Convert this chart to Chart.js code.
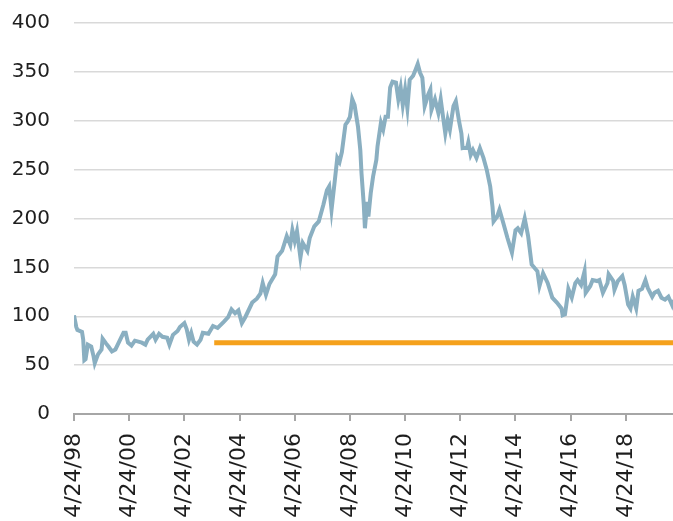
<!DOCTYPE html>
<html>
<head>
<meta charset="utf-8">
<script src="https://cdn.jsdelivr.net/npm/chart.js@4.4.1/dist/chart.umd.min.js"></script>
<style>
  html, body { margin: 0; padding: 0; background: #fff; overflow: hidden; }
  #wrap { width: 673px; height: 521px; }
</style>
</head>
<body>
<div id="wrap"><canvas id="chart"></canvas></div>
<script>
// index series
const dates = [
  '1998-04-24','1998-05-24','1998-06-08','1998-08-08','1998-08-24','1998-09-08','1998-09-24','1998-10-24','1998-12-08','1999-01-08',
  '1999-01-24','1999-03-08','1999-04-24','1999-05-08','1999-06-24','1999-07-24','1999-09-08','1999-10-24','1999-11-24','2000-02-08',
  '2000-03-08','2000-04-08','2000-05-24','2000-07-08','2000-08-24','2000-10-08','2000-11-24','2000-12-24','2001-03-08','2001-04-08',
  '2001-05-24','2001-07-08','2001-09-08','2001-10-08','2001-11-24','2002-01-24','2002-02-24','2002-04-24','2002-05-24','2002-06-24',
  '2002-07-24','2002-08-24','2002-10-08','2002-11-24','2002-12-24','2003-03-08','2003-05-08','2003-07-08','2003-09-24','2003-11-24',
  '2004-01-08','2004-02-24','2004-04-08','2004-05-24','2004-07-08','2004-10-08','2004-12-08','2005-01-24','2005-02-24','2005-04-08',
  '2005-05-24','2005-08-08','2005-09-08','2005-11-08','2006-01-08','2006-02-24','2006-03-24','2006-04-24','2006-05-24','2006-07-08',
  '2006-08-08','2006-10-08','2006-11-08','2007-01-08','2007-03-08','2007-05-08','2007-06-24','2007-07-24','2007-08-24','2007-10-08',
  '2007-11-08','2007-12-08','2008-01-08','2008-02-24','2008-03-24','2008-04-24','2008-05-24','2008-06-24','2008-08-08','2008-09-08',
  '2008-09-24','2008-10-24','2008-11-08','2008-12-08','2008-12-24','2009-01-24','2009-02-24','2009-04-08','2009-04-24','2009-06-08',
  '2009-07-08','2009-08-08','2009-09-08','2009-10-08','2009-11-08','2009-12-24','2010-01-24','2010-02-24','2010-03-24','2010-04-24',
  '2010-05-24','2010-06-24','2010-08-08','2010-09-08','2010-10-08','2010-11-08','2010-12-08','2011-01-08','2011-02-24','2011-03-24',
  '2011-04-08','2011-05-24','2011-07-08','2011-08-08','2011-09-08','2011-10-08','2011-11-08','2011-12-08','2012-01-24','2012-02-24',
  '2012-04-08','2012-05-08','2012-05-24','2012-07-24','2012-08-08','2012-09-08','2012-10-08','2012-11-24','2013-01-08','2013-02-24',
  '2013-04-08','2013-05-24','2013-06-24','2013-07-08','2013-08-24','2013-09-24','2013-11-08','2014-01-08','2014-03-08','2014-04-24',
  '2014-05-24','2014-07-08','2014-08-24','2014-10-08','2014-11-24','2015-02-08','2015-03-08','2015-04-24','2015-06-24','2015-08-24',
  '2015-10-24','2015-12-24','2016-01-08','2016-02-08','2016-03-08','2016-03-24','2016-05-08','2016-06-24','2016-07-24','2016-09-08',
  '2016-10-24','2016-11-08','2017-01-08','2017-02-08','2017-04-08','2017-05-08','2017-06-24','2017-08-24','2017-09-08','2017-11-08',
  '2017-11-24','2018-01-08','2018-03-08','2018-04-08','2018-05-24','2018-06-24','2018-07-24','2018-09-08','2018-10-08','2018-11-24',
  '2019-01-08','2019-02-08','2019-04-08','2019-05-08','2019-06-24','2019-08-08','2019-09-24','2019-11-08','2019-12-24','2020-01-08'
];
const values = [
  101, 89, 86, 84, 76, 55, 56, 71, 69, 59,
  52, 61, 66, 77, 72, 69, 64, 66, 71, 83,
  83, 73, 70, 75, 74, 73, 71, 76, 82, 76,
  82, 79, 78, 71, 81, 85, 89, 93, 87, 76,
  83, 74, 71, 76, 83, 82, 90, 88, 94, 99,
  107, 103, 106, 93, 99, 114, 118, 123, 134, 122,
  133, 143, 161, 167, 182, 173, 188, 177, 187, 160,
  175, 167, 180, 192, 197, 214, 229, 233, 209, 240,
  262, 258, 268, 296, 299, 304, 322, 316, 294, 270,
  246, 214, 190, 217, 202, 226, 243, 260, 274, 298,
  291, 304, 304, 334, 340, 339, 322, 334, 316, 332,
  313, 342, 346, 352, 358, 349, 344, 315, 327, 332,
  311, 322, 308, 322, 304, 287, 301, 291, 315, 320,
  299, 287, 272, 273, 278, 265, 270, 262, 272, 262,
  250, 233, 212, 197, 202, 209, 197, 180, 165, 188,
  190, 185, 200, 182, 153, 146, 131, 144, 134, 119,
  114, 108, 101, 102, 118, 128, 119, 134, 137, 132,
  146, 124, 131, 137, 136, 137, 124, 134, 143, 136,
  127, 136, 141, 132, 112, 108, 120, 108, 126, 128,
  137, 129, 120, 124, 126, 119, 117, 120, 112, 117
];

// flat orange level
const avgLevel = 73;
const avgStart = '2003-05-24';
const avgEnd = '2020-01-08';

const tickLabels = ['4/24/98', '4/24/00', '4/24/02', '4/24/04', '4/24/06', '4/24/08', '4/24/10', '4/24/12', '4/24/14', '4/24/16', '4/24/18'];

function dayNum(iso) {
  const [y, m, d] = iso.split('-').map(Number);
  return Date.UTC(y, m - 1, d) / 864e5;
}
function labelDay(s) {
  const [m, d, y] = s.split('/').map(Number);
  return Date.UTC(y < 50 ? 2000 + y : 1900 + y, m - 1, d) / 864e5;
}
const tickDays = tickLabels.map(labelDay);

new Chart(document.getElementById('chart'), {
  type: 'line',
  data: {
    datasets: [
      {
        data: dates.map((d, i) => ({ x: dayNum(d), y: values[i] })),
        borderColor: '#8aafc1',
        borderWidth: 4,
        pointRadius: 0,
        tension: 0
      },
      {
        data: [{ x: dayNum(avgStart), y: avgLevel }, { x: dayNum(avgEnd), y: avgLevel }],
        borderColor: '#f5a11c',
        borderWidth: 5,
        pointRadius: 0
      }
    ]
  },
  options: {
    responsive: true,
    maintainAspectRatio: false,
    animation: false,
    layout: { padding: { left: 12, top: 23, right: 0, bottom: 0 } },
    plugins: { legend: { display: false }, tooltip: { enabled: false } },
    scales: {
      x: {
        type: 'linear',
        min: dayNum(dates[0]),
        max: dayNum(dates[dates.length - 1]),
        afterBuildTicks: axis => { axis.ticks = tickDays.map(v => ({ value: v })); },
        // keep the rotated labels from pushing the plot around; let them run off the bottom
        afterFit: axis => { axis.paddingLeft = 0; axis.paddingRight = 0; axis.height = 107; },
        grid: { drawOnChartArea: false, drawTicks: true, tickLength: 7, color: '#a6a6a6', lineWidth: 2 },
        border: { color: '#a6a6a6', width: 2 },
        ticks: {
          autoSkip: false,
          maxRotation: 90,
          minRotation: 90,
          padding: 12,
          color: '#1e1e1e',
          font: { family: 'DejaVu Sans', size: 22 },
          callback: v => tickLabels[tickDays.indexOf(v)]
        }
      },
      y: {
        min: 0,
        max: 400,
        afterFit: axis => { axis.width = 62; axis.paddingTop = 0; axis.paddingBottom = 0; },
        ticks: { stepSize: 50, padding: 24, color: '#1e1e1e', font: { family: 'DejaVu Sans', size: 20 } },
        grid: { color: '#d9d9d9', lineWidth: 1.5, drawTicks: false },
        border: { display: false }
      }
    }
  }
});
</script>
</body>
</html>
